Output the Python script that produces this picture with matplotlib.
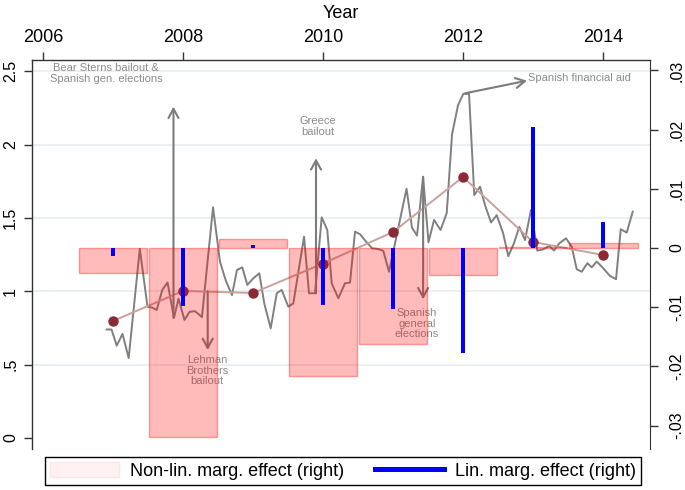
import matplotlib
matplotlib.use("Agg")
import matplotlib.pyplot as plt
from matplotlib.patches import Patch
from matplotlib.lines import Line2D

plt.rcParams['font.family'] = ['Liberation Sans', 'DejaVu Sans']

# annual values
years = [2007, 2008, 2009, 2010, 2011, 2012, 2013, 2014]
nonlin_eff = [-0.0042, -0.0319, 0.0016, -0.0216, -0.0162, -0.0046, 0.0002, 0.0009]
lin_eff = [-0.0013, -0.0098, 0.0005, -0.0096, -0.0103, -0.0177, 0.0204, 0.0044]
annual_level = [0.798, 1.003, 0.989, 1.19, 1.405, 1.78, 1.337, 1.248]

# monthly series (left axis)
month_t = [2006.910, 2006.979, 2007.053, 2007.136, 2007.224, 2007.383, 2007.493, 2007.557,
           2007.624, 2007.704, 2007.779, 2007.871, 2007.936, 2008.021, 2008.093, 2008.171,
           2008.271, 2008.429, 2008.529, 2008.614, 2008.700, 2008.771, 2008.847, 2008.919,
           2009.004, 2009.090, 2009.161, 2009.253, 2009.339, 2009.410, 2009.504, 2009.576,
           2009.729, 2009.800, 2009.886, 2009.981, 2010.061, 2010.124, 2010.219, 2010.314,
           2010.386, 2010.457, 2010.529, 2010.614, 2010.700, 2010.786, 2010.861, 2010.943,
           2011.193, 2011.271, 2011.343, 2011.429, 2011.507, 2011.586, 2011.679, 2011.767,
           2011.843, 2011.929, 2012.004, 2012.086, 2012.161, 2012.243, 2012.314, 2012.400,
           2012.481, 2012.571, 2012.647, 2012.729, 2012.804, 2012.886, 2012.971, 2013.061,
           2013.147, 2013.233, 2013.300, 2013.376, 2013.471, 2013.553, 2013.624, 2013.696,
           2013.776, 2013.839, 2013.910, 2013.981, 2014.100, 2014.186, 2014.253, 2014.339,
           2014.424]
month_val = [0.74, 0.74, 0.63, 0.71, 0.545, 1.29, 0.895, 0.89,
             0.873, 1.01, 1.06, 0.82, 0.95, 0.805, 0.86, 0.865,
             0.825, 1.573, 1.2, 1.07, 0.975, 1.146, 1.164, 1.044,
             1.089, 1.123, 0.918, 0.748, 0.987, 1.01, 0.896, 0.918,
             1.373, 0.987, 0.987, 1.505, 1.419, 1.055, 0.953, 1.055,
             1.06, 1.407, 1.39, 1.34, 1.294, 1.289, 1.276, 1.134,
             1.70, 1.435, 1.38, 1.782, 1.335, 1.487, 1.419, 1.533,
             2.07, 2.27, 2.347, 2.347, 1.657, 1.714, 1.589, 1.47,
             1.52, 1.40, 1.24, 1.33, 1.44, 1.35, 1.555, 1.278,
             1.287, 1.31, 1.278, 1.328, 1.362, 1.305, 1.151, 1.134,
             1.192, 1.164, 1.203, 1.169, 1.105, 1.083, 1.424, 1.401,
             1.544]

# event annotations: text, text pos, arrow start, arrow end
events = [
    ("Bear Sterns bailout &\nSpanish gen. elections", (2006.9, 2.485), (2007.864, 0.82), (2007.864, 2.26)),
    ("Lehman\nBrothers\nbailout", (2008.343, 0.46), (2008.353, 1.0), (2008.353, 0.6)),
    ("Greece\nbailout", (2009.93, 2.125), (2009.9, 0.987), (2009.9, 1.908)),
    ("Spanish\ngeneral\nelections", (2011.343, 0.78), (2011.43, 1.78), (2011.43, 0.946)),
]
aid_text = "Spanish financial aid"
aid_start = (2012.03, 2.351)
aid_end = (2012.914, 2.437)

left_ticks = [0, 0.5, 1, 1.5, 2, 2.5]
left_labels = ['0', '.5', '1', '1.5', '2', '2.5']
right_ticks = [-0.03, -0.02, -0.01, 0, 0.01, 0.02, 0.03]
right_labels = ['-.03', '-.02', '-.01', '0', '.01', '.02', '.03']
year_ticks = [2006, 2008, 2010, 2012, 2014]

fig = plt.figure(figsize=(6.85, 4.9), dpi=100)
ax = fig.add_axes([32/685, 1-449/490, 618/685, 389/490])
ax.set_xlim(2005.843, 2014.671)
ax.set_ylim(-0.075, 2.578)

ax.set_yticks(left_ticks)
ax.set_yticklabels(left_labels, rotation=90, va='center', fontsize=11.5)
ax.grid(axis='y', color='#e6edf2', lw=1.2)
ax.get_ygridlines()[0].set_visible(False)
ax.set_axisbelow(True)

ax.xaxis.set_ticks_position('top')
ax.xaxis.set_label_position('top')
ax.set_xticks(year_ticks)
ax.set_xticklabels([str(y) for y in year_ticks], fontsize=13)
ax.set_xlabel('Year', fontsize=13, labelpad=8)
ax.tick_params(axis='x', length=6, width=1, pad=4, color='#333333')
ax.tick_params(axis='y', length=6, width=1, pad=4, color='#333333')

for s in ['bottom', 'right']:
    ax.spines[s].set_visible(False)
for s in ['left', 'top']:
    ax.spines[s].set_color('#333333')
    ax.spines[s].set_linewidth(1)

ax.plot(month_t, month_val, color='#808080', lw=1.4, zorder=2)
ax.plot(years, annual_level, color='#c9a29c', lw=1.4, zorder=3)
ax.plot(years, annual_level, 'o', color='#8b2a35', ms=6.5, zorder=4)

grey_txt = '#8c8c8c'
for txt, tpos, a0, a1 in events:
    ax.annotate('', xy=a1, xytext=a0,
                arrowprops=dict(arrowstyle='->,head_length=0.55,head_width=0.3',
                                color='#7c7c7c', lw=1.5, mutation_scale=12,
                                shrinkA=0, shrinkB=0), zorder=3)
    ax.text(tpos[0], tpos[1], txt, ha='center', va='center', fontsize=8,
            color=grey_txt, linespacing=1.05, zorder=3)
ax.annotate('', xy=aid_end, xytext=aid_start,
            arrowprops=dict(arrowstyle='->,head_length=0.55,head_width=0.3',
                            color='#7c7c7c', lw=1.5, mutation_scale=12,
                            shrinkA=0, shrinkB=0), zorder=3)
ax.text(aid_end[0] + 0.01, aid_end[1] + 0.02, aid_text, ha='left', va='center',
        fontsize=8, color=grey_txt)

ax2 = ax.twinx()
ax2.set_ylim(-0.03395, 0.03176)
ax2.bar(years, nonlin_eff, width=0.985, color=(1, 0, 0, 0.27),
        edgecolor=(1, 0, 0, 0.35), lw=1)
ax2.bar(years, lin_eff, width=0.065, color='#0000ff')
ax2.set_yticks(right_ticks)
ax2.set_yticklabels(right_labels, rotation=90, va='center', fontsize=11.5)
ax2.tick_params(axis='y', length=6, width=1, pad=8, color='#333333')
for s in ['bottom', 'left', 'top']:
    ax2.spines[s].set_visible(False)
ax2.spines['right'].set_color('#333333')

handles = [Patch(facecolor='#fff1f1', edgecolor='#ffe6e6'),
           Line2D([0], [0], color='#0000ff', lw=3.6)]
leg = ax2.legend(handles, ['Non-lin. marg. effect (right)', 'Lin. marg. effect (right)'],
                 loc='center', bbox_to_anchor=(343/685, 1-471/490),
                 bbox_transform=fig.transFigure, ncol=2, fontsize=13,
                 handlelength=3.8, handleheight=0.9, handletextpad=0.6,
                 columnspacing=1.75, borderpad=0.3, fancybox=False,
                 framealpha=1, edgecolor='black')
leg.get_frame().set_linewidth(1)

fig.savefig('out.png', dpi=100)
